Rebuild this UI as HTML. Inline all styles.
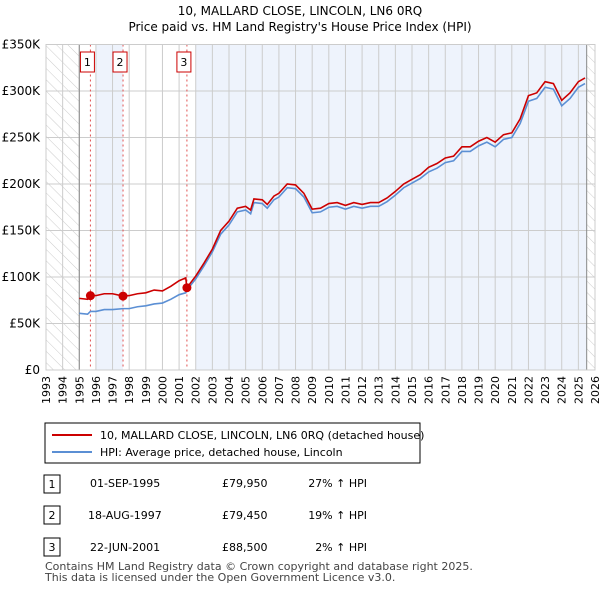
<!DOCTYPE html>
<html><head><meta charset="utf-8"><style>
body{margin:0;background:#fff;font-family:"Liberation Sans","DejaVu Sans",sans-serif;}
svg text{font-family:"DejaVu Sans","Liberation Sans",sans-serif;}
</style></head><body>
<svg id="c" width="600" height="590" xmlns="http://www.w3.org/2000/svg">
<defs><pattern id="h" width="8" height="8" patternUnits="userSpaceOnUse" patternTransform="rotate(-45)"><line x1="0" y1="0" x2="0" y2="8" stroke="#ccc" stroke-width="1"/></pattern></defs>
<text x="300" y="15" text-anchor="middle" font-size="12">10, MALLARD CLOSE, LINCOLN, LN6 0RQ</text>
<text x="300" y="31" text-anchor="middle" font-size="12">Price paid vs. HM Land Registry's House Price Index (HPI)</text>
<g id="plot"></g>
<rect x="45" y="423" width="375" height="40" fill="#fff" stroke="#000"/>
<line x1="52" y1="435" x2="92" y2="435" stroke="#cc0000" stroke-width="2"/>
<text x="100" y="439" font-size="11">10, MALLARD CLOSE, LINCOLN, LN6 0RQ (detached house)</text>
<line x1="52" y1="452" x2="92" y2="452" stroke="#5b8fd4" stroke-width="2"/>
<text x="100" y="456" font-size="11">HPI: Average price, detached house, Lincoln</text>
<g font-size="11">
<rect x="44" y="475" width="16" height="18" fill="#fff" stroke="#000"/><text x="52" y="488" text-anchor="middle">1</text>
<text x="90" y="487">01-SEP-1995</text><text x="222" y="487">£79,950</text><text x="367" y="487" text-anchor="end">27% ↑ HPI</text>
<rect x="44" y="506" width="16" height="18" fill="#fff" stroke="#000"/><text x="52" y="519" text-anchor="middle">2</text>
<text x="88" y="519">18-AUG-1997</text><text x="222" y="519">£79,450</text><text x="367" y="519" text-anchor="end">19% ↑ HPI</text>
<rect x="44" y="538" width="16" height="18" fill="#fff" stroke="#000"/><text x="52" y="551" text-anchor="middle">3</text>
<text x="90" y="551">22-JUN-2001</text><text x="222" y="551">£88,500</text><text x="367" y="551" text-anchor="end">2% ↑ HPI</text>
</g>
<text x="45" y="570" font-size="11" fill="#444">Contains HM Land Registry data © Crown copyright and database right 2025.</text>
<text x="45" y="581" font-size="11" fill="#444">This data is licensed under the Open Government Licence v3.0.</text>
</svg>
<script>
const years=[1995,1995.5,1995.67,1996,1996.5,1997,1997.63,1998,1998.5,1999,1999.5,2000,2000.5,2001,2001.4,2001.47,2002,2002.5,2003,2003.5,2004,2004.5,2005,2005.3,2005.5,2006,2006.3,2006.7,2007,2007.5,2008,2008.5,2009,2009.5,2010,2010.5,2011,2011.5,2012,2012.5,2013,2013.5,2014,2014.5,2015,2015.5,2016,2016.5,2017,2017.5,2018,2018.5,2019,2019.5,2020,2020.5,2021,2021.5,2022,2022.5,2023,2023.5,2024,2024.5,2025,2025.4];
const priceVals=[77,76,80,80,82,82,79.5,80,82,83,86,85,90,96,99,88.5,101,115,130,150,160,174,176,172,184,183,178,187,190,200,199,190,173,174,179,180,177,180,178,180,180,185,192,200,205,210,218,222,228,230,240,240,246,250,245,253,255,270,295,298,310,308,290,298,310,314];
const hpiVals=[61,60,63,63,65,65,66,66,68,69,71,72,76,81,83,86,98,112,127,146,156,170,172,168,180,179,174,183,186,196,195,186,169,170,175,176,173,176,174,176,176,181,188,196,201,206,213,217,223,225,235,235,241,245,240,248,250,265,289,292,304,302,284,292,304,308];
const saleYears=[1995.67,1997.63,2001.47];
const saleVals=[79.95,79.45,88.5];
const saleLabels=["1","2","3"];
const yTicks=[0,50,100,150,200,250,300,350];
const yTickLabels=["£0","£50K","£100K","£150K","£200K","£250K","£300K","£350K"];
const x0=46,x1=595,y0=370,y1=44.5,yMin=1993,yMax=2026;
const X=t=>x0+(t-yMin)/(yMax-yMin)*(x1-x0);
const Y=v=>y0-v/350*(y0-y1);
const NS="http://www.w3.org/2000/svg";
const g=document.getElementById('plot');
function mk(tag,a){const e=document.createElementNS(NS,tag);for(const k in a)e.setAttribute(k,a[k]);g.appendChild(e);return e;}
let e;
e=mk('rect',{x:x0,y:y1,width:x1-x0,height:y0-y1,fill:'#fff'});


e=mk('rect',{x:X(1996),y:y1,width:X(1997.63)-X(1996),height:y0-y1,fill:'#eef3fc'});


e=mk('rect',{x:X(2002),y:y1,width:X(2025.5)-X(2002),height:y0-y1,fill:'#eef3fc'});


e=mk('rect',{x:x0,y:y1,width:X(1995)-x0,height:y0-y1,fill:'url(#h)'});


e=mk('rect',{x:X(2025.5),y:y1,width:x1-X(2025.5),height:y0-y1,fill:'url(#h)'});


for(let yr=yMin;yr<=yMax;yr++){
 e=mk('line',{x1:X(yr),x2:X(yr),y1:y1,y2:y0,stroke:'#ccc'});
 
 
 e=mk('text',{x:0,y:0,'font-size':11,'text-anchor':'end',transform:`translate(${X(yr)+4},${y0+6}) rotate(-90)`});
 e.textContent=yr;
 
 
}
yTicks.forEach((v,i)=>{
 e=mk('line',{x1:x0,x2:x1,y1:Y(v),y2:Y(v),stroke:'#ccc'});
 
 
 e=mk('text',{x:x0-6,y:Y(v)+4,'font-size':12,'text-anchor':'end'});
 e.textContent=yTickLabels[i];
 
 
});
e=mk('line',{x1:X(1995),x2:X(1995),y1:y1,y2:y0,stroke:'#888'});


e=mk('line',{x1:X(2025.5),x2:X(2025.5),y1:y1,y2:y0,stroke:'#888'});


saleYears.forEach((t,i)=>{
 e=mk('line',{x1:X(t),x2:X(t),y1:y1,y2:y0,stroke:'#e05050','stroke-dasharray':'2,3'});
 
 
 e=mk('rect',{x:X(t)-10,y:52,width:14,height:20,fill:'#fff',stroke:'#cc0000'});
 
 
 e=mk('text',{x:X(t)-3,y:66,'font-size':11,'text-anchor':'middle'});
 e.textContent=saleLabels[i];
 
 
});
e=mk('polyline',{points:years.map((t,i)=>X(t)+','+Y(hpiVals[i])).join(' '),fill:'none',stroke:'#5b8fd4','stroke-width':1.6});


e=mk('polyline',{points:years.map((t,i)=>X(t)+','+Y(priceVals[i])).join(' '),fill:'none',stroke:'#cc0000','stroke-width':1.6});


saleYears.forEach((t,i)=>{
 e=mk('circle',{cx:X(t),cy:Y(saleVals[i]),r:4.5,fill:'#cc0000'});
 
 
});
e=mk('rect',{x:x0,y:y1,width:x1-x0,height:y0-y1,fill:'none',stroke:'#ccc'});


</script>
</body></html>
